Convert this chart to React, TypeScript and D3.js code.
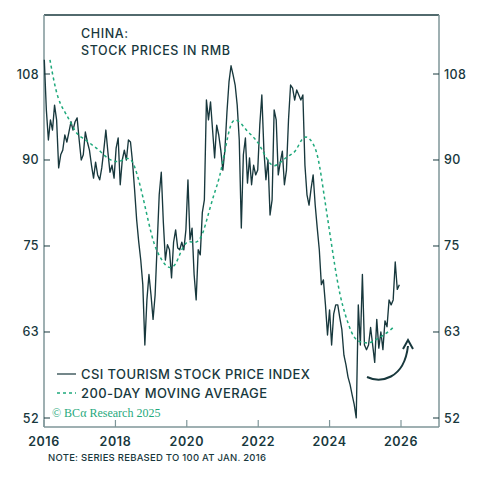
import React from "react";
import * as d3 from "d3";

// CSI tourism index, rebased to 100 at Jan 2016, sampled every 3 weeks
const priceStart = new Date(2016, 0, 4);
const priceStepDays = 21;
const priceValues = [
  111.3, 100.1, 93.9, 98.0, 95.9, 101.1, 98.0, 88.5, 91.0, 91.9,
  94.9, 93.5, 95.5, 97.6, 95.9, 97.6, 98.4, 93.9, 90.0, 91.0,
  95.5, 93.5, 91.9, 89.0, 86.6, 89.6, 87.2, 86.3, 88.5, 91.9,
  95.9, 91.5, 87.7, 89.0, 86.6, 92.3, 94.3, 85.4, 90.0, 91.9,
  90.0, 93.9, 93.5, 89.6, 84.5, 79.3, 75.7, 72.8, 69.1, 60.8,
  66.9, 70.6, 67.6, 64.2, 67.6, 75.2, 83.6, 87.7, 78.9, 72.8,
  75.2, 74.4, 70.1, 75.6, 77.6, 74.7, 74.4, 75.6, 74.4, 77.6,
  86.3, 76.0, 77.9, 70.6, 66.9, 74.4, 73.6, 80.5, 82.7, 102.2,
  98.0, 101.8, 95.9, 90.4, 96.9, 94.9, 91.9, 88.1, 91.9, 99.6,
  106.2, 109.9, 107.8, 105.5, 101.1, 93.9, 77.9, 91.0, 94.3, 85.7,
  90.4, 85.4, 89.0, 87.2, 88.1, 96.9, 103.3, 91.9, 86.3, 90.0,
  80.1, 82.7, 100.1, 98.0, 87.2, 89.6, 91.7, 85.4, 88.1, 98.0,
  105.5, 104.8, 102.2, 104.4, 103.3, 102.2, 103.3, 89.0, 83.6, 81.8,
  84.7, 87.2, 81.8, 77.9, 74.4, 69.1, 69.8, 66.2, 62.1, 65.5,
  60.8, 64.9, 66.2, 66.2, 64.4, 62.8, 59.5, 58.3, 56.8, 55.9,
  54.7, 53.6, 52.1, 66.2, 60.8, 70.6, 60.8, 60.2, 60.8, 63.1,
  60.8, 58.6, 64.2, 60.4, 62.5, 60.2, 64.0, 63.2, 66.9, 66.2,
  66.9, 72.5, 68.4, 69.1,
];

// 200-day moving average, sampled every 8 weeks
const maStart = new Date(2016, 2, 2);
const maStepDays = 56;
const maValues = [
  111.3, 104.4, 100.9, 99.2, 96.9, 94.9, 94.3, 93.5, 92.7, 91.9,
  90.8, 90.0, 89.6, 89.8, 90.4, 90.2, 87.2, 83.2, 78.9, 75.2,
  73.4, 72.0, 71.5, 72.0, 74.4, 75.8, 75.6, 75.5, 77.0, 80.5,
  83.8, 86.6, 91.9, 97.6, 98.2, 97.2, 95.7, 94.7, 93.5, 91.5,
  89.4, 88.7, 89.4, 90.4, 91.0, 91.7, 94.3, 94.7, 93.5, 91.0,
  84.1, 77.9, 72.1, 67.4, 64.7, 62.5, 61.3, 61.2, 61.0, 61.2,
  61.7, 62.1, 62.6, 63.3,
];

const yTickValues = [52.083, 62.5, 75, 90, 108];
const yTickLabels = ["52", "63", "75", "90", "108"];
const xTickYears = [2016, 2018, 2020, 2022, 2024, 2026];

const DARK = "#18383d";
const AXIS = "#7f9699";
const GREEN = "#1fa97c";
const FONT = "Inter, 'Open Sans', sans-serif";

const W = 500;
const H = 479;
const left = 44;
const right = 439;
const top = 15;
const bottom = 427;

export default function App() {
  const x = d3
    .scaleTime()
    .domain([new Date(2016, 0, 1), new Date(2026, 0, 1)])
    .range([left, 401]);
  const y = d3.scaleLog().domain([52.083, 108]).range([418, 74]);

  const price = priceValues.map((v, i) => ({
    date: d3.timeDay.offset(priceStart, i * priceStepDays),
    value: v,
  }));
  const ma = maValues.map((v, i) => ({
    date: d3.timeDay.offset(maStart, i * maStepDays),
    value: v,
  }));

  const priceLine = d3
    .line<{ date: Date; value: number }>()
    .x((d) => x(d.date))
    .y((d) => y(d.value));
  const maLine = d3
    .line<{ date: Date; value: number }>()
    .x((d) => x(d.date))
    .y((d) => y(d.value))
    .curve(d3.curveBasis);

  return (
    <svg
      width={W}
      height={H}
      style={{ position: "absolute", left: 0, top: 0, background: "#fff" }}
      fontFamily={FONT}
    >
      {/* frame */}
      <line x1={left} x2={right} y1={top} y2={top} stroke={DARK} strokeWidth={1.5} />
      <line x1={left} x2={left} y1={top} y2={bottom} stroke={AXIS} strokeWidth={1.5} />
      <line x1={right} x2={right} y1={top} y2={bottom} stroke={AXIS} strokeWidth={1.5} />
      <line x1={left} x2={right} y1={bottom} y2={bottom} stroke={AXIS} strokeWidth={1.5} />

      {/* y ticks both sides */}
      {yTickValues.map((t, i) => (
        <g key={t}>
          <line x1={left} x2={left + 6} y1={y(t)} y2={y(t)} stroke={DARK} strokeWidth={1} />
          <line x1={right - 6} x2={right} y1={y(t)} y2={y(t)} stroke={DARK} strokeWidth={1} />
          <text x={39} y={y(t) + 4.5} textAnchor="end" fontSize={12.5} fontWeight={500} letterSpacing={0.4} fill={DARK}>
            {yTickLabels[i]}
          </text>
          <text x={444} y={y(t) + 4.5} textAnchor="start" fontSize={12.5} fontWeight={500} letterSpacing={0.4} fill={DARK}>
            {yTickLabels[i]}
          </text>
        </g>
      ))}

      {/* x ticks */}
      {xTickYears.map((yr) => {
        const px = x(new Date(yr, 0, 1));
        return (
          <g key={yr}>
            <line x1={px} x2={px} y1={bottom - 7} y2={bottom} stroke={AXIS} strokeWidth={1.2} />
            <text x={px} y={446} textAnchor="middle" fontSize={12.5} fontWeight={600} letterSpacing={0.6} fill={DARK}>
              {yr}
            </text>
          </g>
        );
      })}

      {/* series */}
      <path d={priceLine(price) ?? ""} fill="none" stroke={DARK} strokeWidth={1.35} strokeLinejoin="round" />
      <path
        d={maLine(ma) ?? ""}
        fill="none"
        stroke={GREEN}
        strokeWidth={1.5}
        strokeDasharray="3,3"
      />

      {/* title */}
      <g fontSize={12.5} letterSpacing={0.6} fill={DARK} fontWeight={500}>
        <text x={81} y={38}>CHINA:</text>
        <text x={81} y={55}>STOCK PRICES IN RMB</text>
      </g>

      {/* legend */}
      <line x1={57} x2={76} y1={374} y2={374} stroke={DARK} strokeWidth={1.2} />
      <line x1={57} x2={76} y1={393} y2={393} stroke={GREEN} strokeWidth={1.5} strokeDasharray="3,3" />
      <g fontSize={13} letterSpacing={0.4} fill={DARK} fontWeight={500}>
        <text x={81} y={379}>CSI TOURISM STOCK PRICE INDEX</text>
        <text x={81} y={398}>200-DAY MOVING AVERAGE</text>
      </g>

      <text x={52} y={417} fontSize={12} fill={GREEN} fontFamily="'Liberation Serif', 'DejaVu Serif', serif">
        © BCα Research 2025
      </text>

      {/* rebound arrow */}
      <path d="M367,377 C380,383 404,380 408,346" fill="none" stroke={DARK} strokeWidth={2} />
      <path d="M403,349 L408,340 L413,349" fill="none" stroke={DARK} strokeWidth={2} strokeLinejoin="miter" />

      <text x={48} y={461} fontSize={9.5} letterSpacing={0.25} fill={DARK} fontWeight={500}>
        NOTE: SERIES REBASED TO 100 AT JAN. 2016
      </text>
    </svg>
  );
}
